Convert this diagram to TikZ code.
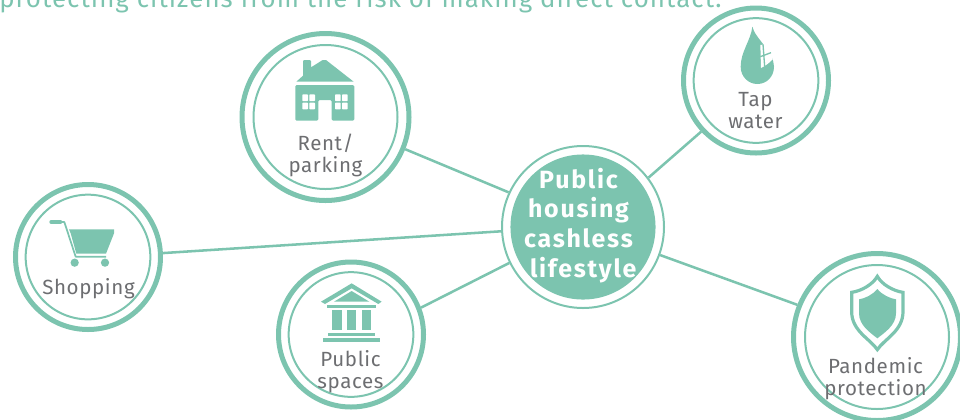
\documentclass[tikz,border=0pt]{standalone}
\usepackage{fontspec}
\setmainfont{Fira Sans}[LetterSpace=3]
\newfontfamily\headf{Fira Sans}[LetterSpace=4]
\newfontfamily\boldf{Fira Sans}[LetterSpace=7]
\definecolor{teal1}{HTML}{7CC4AF}
\definecolor{txtgrey}{HTML}{6D6E71}
\tikzset{
  ringbig/.style={circle,draw=teal1,line width=3.75pt,minimum size=125.25pt,inner sep=0pt,outer sep=1.875pt},
  ringsmall/.style={circle,draw=teal1,line width=3.75pt,minimum size=108.75pt,inner sep=0pt,outer sep=1.875pt},
  innerbig/.style={circle,draw=teal1,line width=1.5pt,minimum size=108pt,inner sep=0pt},
  innersmall/.style={circle,draw=teal1,line width=1.5pt,minimum size=93.5pt,inner sep=0pt},
  link/.style={draw=teal1,line width=1.9pt},
  lab/.style={text=txtgrey,font=\fontsize{15.4}{16.2}\selectfont,align=center,inner sep=0pt,anchor=base},
  icon/.style={fill=teal1,draw=none},
  zoomed/.style={x=0.25pt,y=-0.25pt}
}
\begin{document}
\begin{tikzpicture}[x=0.75pt,y=-0.75pt]
\useasboundingbox (0,0) rectangle (960,419);
\clip (0,0) rectangle (960,419);
% heading
\node[anchor=base west,inner sep=0pt,text=teal1,font=\headf\fontsize{19.4}{20}\selectfont] (head) at (-1,7) {protecting citizens from the risk of making direct contact.};
% rings
\node[circle,draw=teal1,line width=1.5pt,minimum size=121.5pt,inner sep=0pt,outer sep=.75pt] (hub) at (583,227) {};
\fill[teal1] (hub.center) circle[radius=54.4pt];
\node[ringbig] (rent) at (325.5,117) {};
\node[innerbig] (rentin) at (325.5,117) {};
\node[ringsmall] (tap) at (756,80.5) {};
\node[innersmall] (tapin) at (756,80.5) {};
\node[ringsmall] (shop) at (88,257) {};
\node[innersmall] (shopin) at (88,257) {};
\node[ringsmall] (pub) at (351,334.5) {};
\node[innersmall] (pubin) at (351,334.5) {};
\node[ringbig] (pan) at (877,337) {};
\node[innerbig] (panin) at (877,337) {};
% connectors
\draw[link] (rent.-22) -- (hub.155.6);
\draw[link] (tap.223) -- (hub.37);
\draw[link] (shop.3) -- (hub.183);
\draw[link] (pub.21.7) -- (hub.206.9);
\draw[link] (pan.158.9) -- (hub.-20.6);
% labels
\node[lab] (rentlab) at (325.5,172) {Rent/\\parking};
\node[lab] (taplab) at (755.5,128) {Tap\\water};
\node[lab] (shoplab) at (88.5,294) {Shopping};
\node[lab] (publab) at (350.5,388) {Public\\spaces};
\node[lab] (panlab) at (875.5,395) {Pandemic\\protection};
\node[text=white,font=\boldf\bfseries\fontsize{18.7}{22.2}\selectfont,align=center,inner sep=0pt,anchor=base] (hublab) at (578.5,277) {Public\\housing\\cashless\\\hspace{7pt}lifestyle};
% house
\begin{scope}[shift={(230,25)},zoomed]
\fill[icon] (219,108) -- (222,105) -- (240,105) -- (243,108) -- (243,127) -- (278,105) -- (288,105) -- (371,170) -- (199,170) -- (219,152) -- cycle;
\fill[icon,rounded corners=1pt] (196,180) -- (373,180) -- (373,287) -- (305,287) -- (305,225) -- (265,225) -- (265,287) -- (196,287) -- cycle;
\foreach \wx in {217,315}{
  \fill[white,rounded corners=0.5pt] (\wx,208) rectangle ++(17,20);
  \fill[white,rounded corners=0.5pt] (\wx+21,208) rectangle ++(17,20);
  \fill[white,rounded corners=0.5pt] (\wx,233) rectangle ++(17,20);
  \fill[white,rounded corners=0.5pt] (\wx+21,233) rectangle ++(17,20);
}
\end{scope}
% drop
\begin{scope}[shift={(675,0)},zoomed]
\fill[icon] (232,80) .. controls (228,120) and (197,155) .. (197,200) .. controls (197,230) and (220,252) .. (247,252) .. controls (275,252) and (297,230) .. (297,200) .. controls (297,155) and (240,115) .. (232,80) -- cycle;
\fill[white] (256,135) -- (270,133) .. controls (282,148) and (290,162) .. (293,178) .. controls (282,190) and (270,198) .. (258,204) -- cycle;
\draw[teal1,line width=1pt] (264,133) -- (269,200);
\draw[teal1,line width=1pt] (256,170) -- (288,158);
\end{scope}
% cart
\begin{scope}[shift={(5,175)},zoomed]
\draw[teal1,line width=3pt,line cap=round] (139,141) -- (166,141);
\draw[teal1,line width=1.3pt,line join=round] (166,141) -- (178,141) -- (212,245) -- (303,245);
\fill[icon] (192,163) -- (327,163) -- (327,175) -- (303,236) -- (214,236) -- (197,175) -- cycle;
\fill[icon] (209,263) circle[radius=3.1pt];
\fill[icon] (300,263) circle[radius=3.1pt];
\end{scope}
% bank
\begin{scope}[shift={(270,255)},zoomed]
\fill[icon] (245,85) -- (335,140) -- (325,147) -- (245,100) -- (165,147) -- (153,140) -- cycle;
\fill[icon] (245,108) -- (298,140) -- (192,140) -- cycle;
\fill[icon] (172,149) rectangle (318,158);
\fill[icon] (187,165) rectangle (215,225);
\fill[icon] (231,165) rectangle (259,225);
\fill[icon] (275,165) rectangle (302,225);
\fill[icon] (173,234) rectangle (316,244);
\fill[icon] (159,250) rectangle (330,261);
\end{scope}
% shield
\begin{scope}[shift={(785,245)},zoomed]
\draw[teal1,line width=2.4pt,line join=miter] (277,94) .. controls (290,118) and (325,138) .. (354,142) -- (354,200) .. controls (354,258) and (298,282) .. (277,314) .. controls (256,282) and (200,258) .. (200,200) -- (200,142) .. controls (229,138) and (264,118) .. (277,94) -- cycle;
\fill[icon] (277,132) .. controls (292,150) and (315,160) .. (333,163) -- (333,205) .. controls (333,240) and (300,262) .. (277,280) .. controls (254,262) and (222,240) .. (222,205) -- (222,163) .. controls (240,160) and (262,150) .. (277,132) -- cycle;
\end{scope}
\end{tikzpicture}
\end{document}
